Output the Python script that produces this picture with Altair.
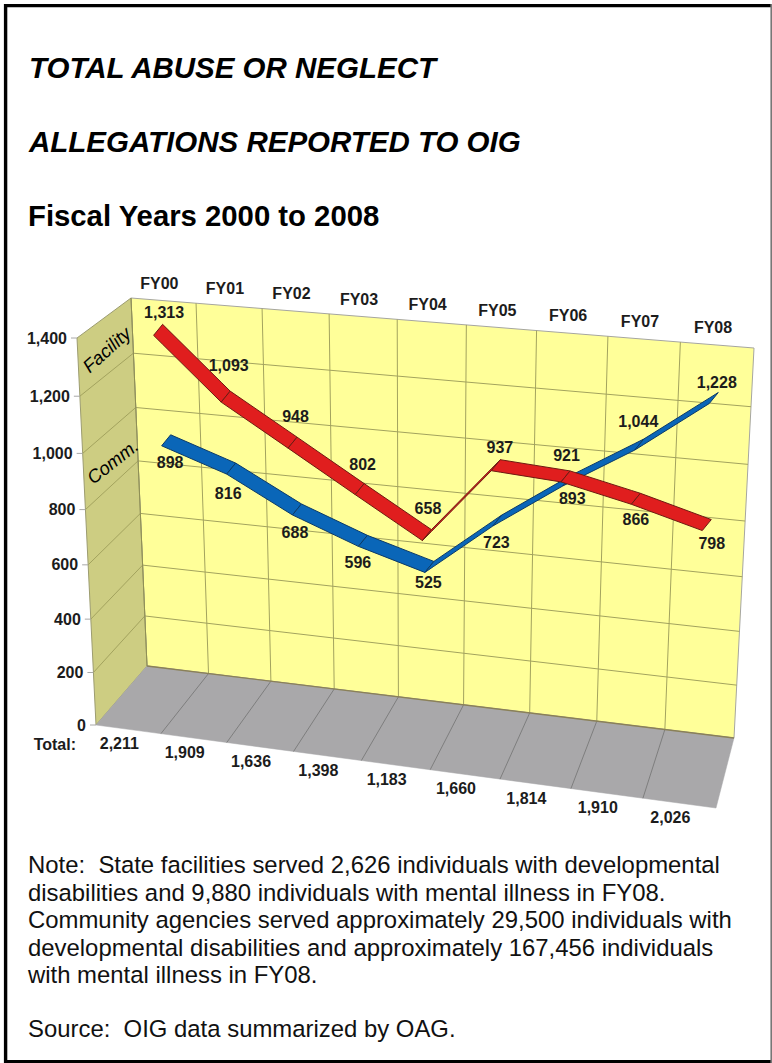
import numpy as np
import pandas as pd
import altair as alt

W, H = 772, 1063
FONT = "Liberation Sans"

# Chart values
YEARS = ["FY00", "FY01", "FY02", "FY03", "FY04", "FY05", "FY06", "FY07", "FY08"]
FACILITY = [1313, 1093, 948, 802, 658, 937, 921, 866, 798]
COMMUNITY = [898, 816, 688, 596, 525, 723, 893, 1044, 1228]
Y_TICKS = [0, 200, 400, 600, 800, 1000, 1200, 1400]
Y_MAX = 1400

TITLES = ["TOTAL ABUSE OR NEGLECT", "ALLEGATIONS REPORTED TO OIG"]
SUBTITLE = "Fiscal Years 2000 to 2008"
NOTE_LINES = [
    "Note:\u00a0\u00a0State facilities served 2,626 individuals with developmental",
    "disabilities and 9,880 individuals with mental illness in FY08.",
    "Community agencies served approximately 29,500 individuals with",
    "developmental disabilities and approximately 167,456 individuals",
    "with mental illness in FY08.",
]
SOURCE = "Source:\u00a0\u00a0OIG data summarized by OAG."

# Perspective box: screen corners of the back and front planes
BACK_PLANE = [(147, 666), (734, 738), (754, 348), (131, 298)]
FRONT_PLANE = [(96, 725), (716, 808), (737, 398), (77, 338)]

# Where each value label sits relative to its ribbon point
FACILITY_NUDGE = [(6, -17), (3, -31), (3, -26), (3, -25), (1, -27), (4, -18), (1, -21), (0, 21), (5, 18)]
COMMUNITY_NUDGE = [(4, 22), (-3, 25), (-2, 23), (-5, 22), (-1, 16), (-1, 22), (5, 18), (-1, -23), (3, -16)]


def homography(corners):
    src = [(0, 0), (1, 0), (1, 1), (0, 1)]
    a, b = [], []
    for (s, r), (x, y) in zip(src, corners):
        a.append([s, r, 1, 0, 0, 0, -s * x, -r * x])
        a.append([0, 0, 0, s, r, 1, -s * y, -r * y])
        b += [x, y]
    return np.append(np.linalg.solve(np.array(a, float), np.array(b, float)), 1).reshape(3, 3)


HB, HF = homography(BACK_PLANE), homography(FRONT_PLANE)


def project(u, v, t=0.0):
    """Category position u, value v and depth t (0 back wall, 1 front edge) to screen."""
    p = np.array([u / len(YEARS), v / Y_MAX, 1.0])
    b, f = HB @ p, HF @ p
    b, f = b[:2] / b[2], f[:2] / f[2]
    return tuple(float(c) for c in b + t * (f - b))


def polygon_rows(pts, name):
    """Slice a convex polygon into the x / y / y2 rows an area mark needs."""
    rows = []
    n = len(pts)
    for x in sorted({p[0] for p in pts}):
        ys = []
        for i in range(n):
            (x0, y0), (x1, y1) = pts[i], pts[(i + 1) % n]
            if min(x0, x1) <= x <= max(x0, x1):
                if x0 == x1:
                    ys += [y0, y1]
                else:
                    ys.append(y0 + (y1 - y0) * (x - x0) / (x1 - x0))
        rows.append({"x": x, "y": min(ys), "y2": max(ys), "poly": name})
    return rows


X = alt.X("x:Q", axis=None, scale=alt.Scale(domain=[0, W], range=[0, W], nice=False, zero=False))
Y = alt.Y("y:Q", axis=None, scale=alt.Scale(domain=[0, H], range=[0, H], nice=False, zero=False))


def areas(polys, fill, stroke, width=1.0):
    rows = []
    for i, p in enumerate(polys):
        rows += polygon_rows(p, i)
    return alt.Chart(pd.DataFrame(rows)).mark_area(
        fill=fill, stroke=stroke, strokeWidth=width, opacity=1, interpolate="linear"
    ).encode(x=X, y=Y, y2="y2:Q", detail="poly:N")


def lines(segments, color, width=1.0):
    rows = []
    for i, seg in enumerate(segments):
        rows += [{"x": p[0], "y": p[1], "seg": i, "k": j} for j, p in enumerate(seg)]
    return alt.Chart(pd.DataFrame(rows)).mark_line(color=color, strokeWidth=width).encode(
        x=X, y=Y, detail="seg:N", order="k:Q"
    )


def texts(rows, size, weight="bold", style="normal", color="#1c1c1c", align="center", angle=0, baseline="alphabetic"):
    return alt.Chart(pd.DataFrame(rows)).mark_text(
        font=FONT, fontSize=size, fontWeight=weight, fontStyle=style, color=color,
        align=align, baseline=baseline, angle=angle,
    ).encode(x=X, y=Y, text="label:N")


def at(p, dx, dy, label):
    return {"x": p[0] + dx, "y": p[1] + dy, "label": label}


n = len(YEARS)
layers = []

# Walls and floor
side = [project(0, 0, 1), project(0, 0, 0), project(0, Y_MAX, 0), project(0, Y_MAX, 1)]
back = [project(0, 0, 0), project(n, 0, 0), project(n, Y_MAX, 0), project(0, Y_MAX, 0)]
floor = [project(0, 0, 1), project(n, 0, 1), project(n, 0, 0), project(0, 0, 0)]
layers.append(areas([back], "#FFFF99", "#A6A6A0", 1))
layers.append(areas([side], "#CDCD82", "#9C9C70", 1))
layers.append(areas([floor], "#A9A8AA", "#A9A8AA", 0.5))

# Grid lines on all three faces
GRID = "#A3A35E"
inner = [v for v in Y_TICKS if 0 < v < Y_MAX]
layers.append(lines([[project(0, v), project(n, v)] for v in inner], GRID))
layers.append(lines([[project(0, v, 1), project(0, v)] for v in inner], GRID))
layers.append(lines([[project(u, 0), project(u, Y_MAX)] for u in range(1, n)], GRID))
layers.append(lines([[project(u, 0, 1), project(u, 0)] for u in range(1, n)], "#7E7E7E"))
layers.append(lines([[project(0, 0), project(n, 0)]], "#8A8058", 1.4))
layers.append(lines([[project(0, 0, 0), project(0, Y_MAX, 0)]], "#8F8F55"))
layers.append(lines([[(project(0, v, 1)[0] - 6, project(0, v, 1)[1]), project(0, v, 1)] for v in Y_TICKS], "#A8A8A8"))

# Series ribbons; the community series sits nearest the back wall
RIBBON = (4.5, -5.5)


def ribbon(values, depth):
    c = [project(i + 0.5, v, depth) for i, v in enumerate(values)]
    polys = []
    for a, b in zip(c[:-1], c[1:]):
        polys.append([
            (a[0] + RIBBON[0], a[1] + RIBBON[1]),
            (b[0] + RIBBON[0], b[1] + RIBBON[1]),
            (b[0] - RIBBON[0], b[1] - RIBBON[1]),
            (a[0] - RIBBON[0], a[1] - RIBBON[1]),
        ])
    return polys, c


blue_polys, blue_c = ribbon(COMMUNITY, 0.05)
red_polys, red_c = ribbon(FACILITY, 0.12)
layers.append(areas(blue_polys, "#0A66B8", "#0B3A68", 1))
layers.append(areas(red_polys, "#E01E1E", "#6E1A12", 1))

# Axis, category and total labels
LABEL = 16
layers.append(texts([at(project(i + 0.5, Y_MAX), -4, -12, y) for i, y in enumerate(YEARS)], LABEL))
layers.append(texts([at(project(i + 0.5, 0, 1), -9, 20, f"{a + b:,}")
                     for i, (a, b) in enumerate(zip(FACILITY, COMMUNITY))], LABEL))
layers.append(texts([at(project(0, v, 1), -10, 5.5, f"{v:,}") for v in Y_TICKS], LABEL, align="right"))
layers.append(texts([at(project(0, 0, 1), -20, 25, "Total:")], LABEL, align="right"))

# Value labels
value_rows = []
for vals, pts, nudges in [(FACILITY, red_c, FACILITY_NUDGE), (COMMUNITY, blue_c, COMMUNITY_NUDGE)]:
    for v, p, (dx, dy) in zip(vals, pts, nudges):
        value_rows.append(at(p, dx, dy + 5.5, f"{v:,}"))
layers.append(texts(value_rows, LABEL))

# Series names on the side wall
layers.append(texts([{"x": 107, "y": 350, "label": "Facility"}], 18.5, weight="normal", style="italic",
                    angle=318, baseline="middle", color="#000000"))
layers.append(texts([{"x": 113, "y": 462, "label": "Comm."}], 18.5, weight="normal", style="italic",
                    angle=322, baseline="middle", color="#000000"))

# Headings and notes
layers.append(texts([{"x": 29, "y": y, "label": s} for s, y in zip(TITLES, [78, 152])], 29.5,
                    style="italic", align="left", color="#000000"))
layers.append(texts([{"x": 28, "y": 226, "label": SUBTITLE}], 29.3, align="left", color="#000000"))
layers.append(texts([{"x": 28, "y": y, "label": s} for s, y in zip(NOTE_LINES, [873, 901, 928, 956, 983])],
                    23.9, weight="normal", align="left", color="#111111"))
layers.append(texts([{"x": 28, "y": 1037, "label": SOURCE}], 23.9, weight="normal", align="left", color="#111111"))

# Outer frame
layers.append(lines([[(4, 5.6), (W, 5.6)], [(5.6, 4), (5.6, H)]], "#000000", 3.4))
layers.append(lines([[(4, 1061.5), (W, 1061.5)]], "#000000", 3))
layers.append(lines([[(771.2, 4), (771.2, H)]], "#777777", 1.6))

chart = alt.layer(*layers).properties(
    width=W, height=H, padding=0, autosize=alt.AutoSizeParams(type="none"), background="white"
).configure_view(stroke=None)

chart.save("out.html", embed_options={"renderer": "svg", "actions": False})
